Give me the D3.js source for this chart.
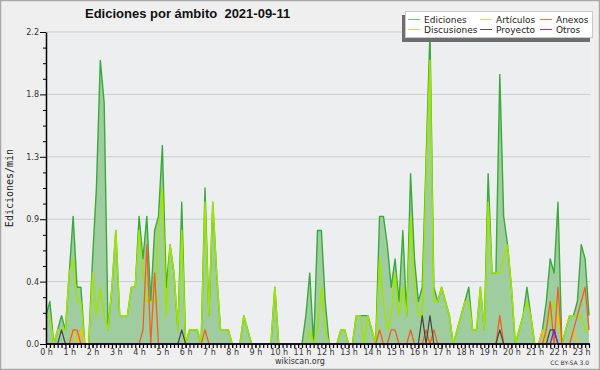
<!DOCTYPE html>
<html lang="es">
<head>
    <meta charset="UTF-8">
    <title>Ediciones por ámbito</title>
    <script src="https://d3js.org/d3.v7.min.js"></script>
    <style>
        body { margin: 0; background: #fff; }
    </style>
</head>
<body>
    <div id="chart"></div>
    <script>
        // one value every 10 minutes, 0:00 .. 23:20 (edits per minute)
        const stepMin = 10;

        const ediciones = [
            0.2, 0.3, 0, 0.1, 0.2, 0.1, 0.5, 0.9, 0.4, 0.4,
            0, 0, 0.6, 1.1, 2.0, 1.7, 0.1, 0.4, 0.8, 0.2,
            0.2, 0.2, 0.4, 0.4, 0.9, 0.6, 0.9, 0.3, 0.8, 0.9,
            1.4, 0.4, 0.7, 0.5, 0.1, 1.0, 0, 0.1, 0.1, 0.1,
            0, 1.1, 0.2, 1.0, 0.5, 0.1, 0.1, 0.1, 0, 0,
            0, 0.2, 0.1, 0, 0, 0, 0, 0, 0, 0.4,
            0, 0, 0, 0, 0, 0, 0, 0.2, 0.5, 0,
            0.8, 0.8, 0.3, 0, 0, 0, 0.1, 0.1, 0, 0,
            0.2, 0.2, 0.2, 0.2, 0.1, 0, 0.9, 0.9, 0.7, 0.4,
            0.6, 0.3, 0.8, 0.2, 1.2, 0.6, 0.3, 0.4, 1.3, 2.2,
            0.4, 0.3, 0.4, 0.3, 0.2, 0, 0.1, 0.2, 0.3, 0.4,
            0.1, 0.1, 0.4, 0.1, 1.2, 0.5, 0.5, 1.9, 0.9, 0.7,
            0.4, 0, 0.1, 0.2, 0.4, 0.2, 0, 0, 0.1, 0.3,
            0.6, 0.5, 1.0, 0, 0.1, 0.2, 0.2, 0.3, 0.7, 0.6, 0.2
        ];
        const articulos = [
            0.2, 0.2, 0, 0.1, 0.1, 0.1, 0.5, 0.6, 0.3, 0.3,
            0, 0, 0.5, 0.2, 0.4, 0.2, 0.1, 0.4, 0.8, 0.2,
            0.2, 0.2, 0.4, 0.4, 0.8, 0.5, 0.3, 0.3, 0.3, 0.8,
            1.1, 0.2, 0.7, 0.5, 0.1, 0.8, 0, 0.1, 0.1, 0.1,
            0, 1.0, 0.2, 1.0, 0.5, 0.1, 0.1, 0.1, 0, 0,
            0, 0.2, 0.1, 0, 0, 0, 0, 0, 0, 0.4,
            0, 0, 0, 0, 0, 0, 0, 0, 0.1, 0,
            0.1, 0.4, 0.1, 0, 0, 0, 0.1, 0.1, 0, 0,
            0.2, 0.2, 0, 0.2, 0.1, 0, 0.6, 0.3, 0.1, 0.2,
            0.5, 0.2, 0.4, 0.2, 0.9, 0.4, 0.2, 0.2, 1.2, 2.0,
            0.3, 0.3, 0.4, 0.3, 0.2, 0, 0.1, 0.2, 0.3, 0.3,
            0.1, 0.1, 0.4, 0.1, 1.0, 0.5, 0.5, 0.5, 0.6, 0.7,
            0.4, 0, 0.1, 0.2, 0.3, 0.2, 0, 0, 0, 0.1,
            0.2, 0.3, 0.2, 0, 0.1, 0.2, 0.2, 0.2, 0.2, 0.1, 0.1
        ];
        const anexos = [
            0, 0, 0, 0, 0, 0, 0, 0.1, 0.1, 0,
            0, 0, 0, 0, 0, 0, 0, 0, 0, 0,
            0, 0, 0, 0, 0, 0.1, 0.7, 0, 0.5, 0,
            0, 0, 0, 0, 0, 0, 0, 0, 0, 0,
            0, 0.1, 0, 0, 0, 0, 0, 0, 0, 0,
            0, 0, 0, 0, 0, 0, 0, 0, 0, 0,
            0, 0, 0, 0, 0, 0, 0, 0, 0, 0,
            0, 0, 0, 0, 0, 0, 0, 0, 0, 0,
            0, 0, 0, 0, 0, 0, 0.1, 0, 0, 0.1,
            0.1, 0, 0, 0, 0.1, 0, 0, 0, 0.1, 0,
            0.1, 0, 0, 0, 0, 0, 0, 0, 0, 0,
            0, 0, 0, 0, 0, 0, 0, 0.2, 0, 0,
            0, 0, 0, 0, 0, 0, 0, 0, 0, 0.1,
            0.3, 0, 0.4, 0, 0, 0, 0.1, 0.2, 0.3, 0.4, 0.1
        ];
        const discusiones = [
            0, 0, 0, 0, 0, 0, 0, 0.1, 0, 0.1,
            0, 0, 0, 0, 0, 0, 0, 0, 0, 0,
            0, 0, 0, 0, 0, 0, 0, 0, 0, 0,
            0, 0, 0, 0, 0, 0, 0, 0, 0, 0,
            0, 0, 0, 0, 0, 0, 0, 0, 0, 0,
            0, 0, 0, 0, 0, 0, 0, 0, 0, 0,
            0, 0, 0, 0, 0, 0, 0, 0, 0, 0,
            0, 0, 0, 0, 0, 0, 0, 0, 0, 0,
            0, 0, 0, 0, 0, 0, 0, 0, 0, 0,
            0, 0, 0, 0, 0, 0, 0, 0, 0, 0,
            0, 0, 0, 0, 0, 0, 0, 0, 0, 0,
            0, 0, 0, 0, 0, 0, 0, 0, 0, 0,
            0, 0, 0, 0, 0, 0, 0, 0, 0.1, 0,
            0, 0.1, 0.2, 0, 0, 0, 0.1, 0, 0, 0, 0
        ];
        const proyecto = [
            0, 0, 0, 0, 0.1, 0, 0, 0, 0, 0,
            0, 0, 0, 0, 0, 0, 0, 0, 0, 0,
            0, 0, 0, 0, 0, 0, 0, 0, 0, 0,
            0, 0, 0, 0, 0, 0.1, 0, 0, 0, 0,
            0, 0, 0, 0, 0, 0, 0, 0, 0, 0,
            0, 0, 0, 0, 0, 0, 0, 0, 0, 0,
            0, 0, 0, 0, 0, 0, 0, 0, 0, 0,
            0, 0, 0, 0, 0, 0, 0, 0, 0, 0,
            0, 0, 0, 0, 0, 0, 0, 0, 0, 0,
            0, 0, 0, 0, 0, 0, 0, 0.2, 0, 0.2,
            0, 0, 0, 0, 0, 0, 0, 0, 0, 0,
            0, 0, 0, 0, 0, 0, 0, 0.1, 0, 0,
            0, 0, 0, 0, 0, 0, 0, 0, 0, 0,
            0.1, 0.1, 0, 0, 0, 0, 0, 0, 0, 0, 0
        ];
        const otros = [
            0, 0, 0, 0, 0, 0, 0, 0, 0, 0,
            0, 0, 0, 0, 0, 0, 0, 0, 0, 0,
            0, 0, 0, 0, 0, 0, 0, 0, 0, 0,
            0, 0, 0, 0, 0, 0, 0, 0, 0, 0,
            0, 0, 0, 0, 0, 0, 0, 0, 0, 0,
            0, 0, 0, 0, 0, 0, 0, 0, 0, 0,
            0, 0, 0, 0, 0, 0, 0, 0, 0, 0,
            0, 0, 0, 0, 0, 0, 0, 0, 0, 0,
            0, 0, 0, 0, 0, 0, 0, 0, 0, 0,
            0, 0, 0, 0, 0, 0, 0, 0, 0, 0,
            0, 0, 0, 0, 0, 0, 0, 0, 0, 0,
            0, 0, 0, 0, 0, 0, 0, 0, 0, 0,
            0, 0, 0, 0, 0, 0, 0, 0, 0, 0,
            0, 0.1, 0, 0, 0, 0, 0, 0, 0, 0, 0
        ];

        const hourLabels = ["0 h", "1 h", "2 h", "3 h", "4 h", "5 h", "6 h", "7 h", "8 h", "9 h", "10 h", "11 h",
            "12 h", "13 h", "14 h", "15 h", "16 h", "17 h", "18 h", "19 h", "20 h", "21 h", "22 h", "23 h"];
        const yMajorTicks = [0, 0.44, 0.88, 1.32, 1.76, 2.2];

        const width = 600;
        const height = 370;

        // x in minutes since midnight
        const xScale = d3.scaleLinear().domain([0, 1400]).range([46, 589]);
        const yScale = d3.scaleLinear().domain([0, 2.2]).range([344, 32]);

        const svg = d3.select("#chart")
            .append("svg")
            .attr("width", width)
            .attr("height", height);

        // background and frame
        svg.append("rect")
            .attr("x", 0.5).attr("y", 0.5)
            .attr("width", width - 1).attr("height", height - 1)
            .attr("fill", "#efefef")
            .attr("stroke", "#a8a8a8")
            .attr("stroke-width", 1.5);

        svg.append("rect")
            .attr("x", 46).attr("y", 32)
            .attr("width", 544).attr("height", 312)
            .attr("fill", "#eceef0");

        // horizontal grid
        svg.append("g")
            .selectAll("line")
            .data(yMajorTicks.slice(1))
            .join("line")
            .attr("x1", 46).attr("x2", 590)
            .attr("y1", d => yScale(d)).attr("y2", d => yScale(d))
            .attr("stroke", "#cdcdcd")
            .attr("stroke-width", 1);

        const xOf = (d, i) => xScale(i * stepMin);

        // area for total edits
        svg.append("path")
            .datum(ediciones)
            .attr("fill", "#a0cda0")
            .attr("d", d3.area().x(xOf).y0(yScale(0)).y1(d => yScale(d)));

        const line = d3.line().x(xOf).y(d => yScale(d));

        svg.append("path")
            .datum(ediciones)
            .attr("fill", "none")
            .attr("stroke", "#3aaa3a")
            .attr("stroke-width", 1.4)
            .attr("stroke-linejoin", "round")
            .attr("d", line);

        // other namespaces on top
        const series = [
            { values: articulos, color: "#a0e400", w: 1.5 },
            { values: discusiones, color: "#ffc000", w: 1.3 },
            { values: anexos, color: "#f06020", w: 1.3 },
            { values: proyecto, color: "#444444", w: 1.2 },
            { values: otros, color: "#7a22e0", w: 1.3 }
        ];
        series.forEach(s => {
            svg.append("path")
                .datum(s.values)
                .attr("fill", "none")
                .attr("stroke", s.color)
                .attr("stroke-width", s.w)
                .attr("stroke-linejoin", "round")
                .attr("d", line);
        });

        // y axis: minor + major ticks
        const yMinor = [];
        yMajorTicks.forEach((t, i) => {
            if (i > 0) [1, 2, 3].forEach(k => yMinor.push(yMajorTicks[i - 1] + k * 0.11));
        });

        svg.append("g")
            .attr("transform", "translate(46,0)")
            .call(d3.axisLeft(yScale).tickValues(yMinor).tickSize(3).tickSizeOuter(0).tickFormat(""))
            .call(g => g.select(".domain").remove());

        const yAxis = svg.append("g")
            .attr("transform", "translate(46,0)")
            .call(d3.axisLeft(yScale).tickValues(yMajorTicks).tickSize(6).tickSizeOuter(0)
                .tickPadding(1).tickFormat(d3.format(".1f")));
        yAxis.select(".domain").attr("stroke", "#000").attr("stroke-width", 1.5);
        yAxis.selectAll("text")
            .attr("font-family", "DejaVu Sans, sans-serif")
            .attr("font-size", 8)
            .attr("fill", "#333");

        // x axis: tick every 10 minutes, labels every hour
        const xMinor = ediciones.map((d, i) => i * stepMin);
        svg.append("g")
            .attr("transform", "translate(0,344)")
            .call(d3.axisBottom(xScale).tickValues(xMinor).tickSize(4).tickSizeOuter(0).tickFormat(""))
            .call(g => g.select(".domain").remove())
            .selectAll("line").attr("stroke-width", 1.2);

        const xAxis = svg.append("g")
            .attr("transform", "translate(0,344)")
            .call(d3.axisBottom(xScale)
                .tickValues(hourLabels.map((h, i) => i * 60))
                .tickSize(4).tickSizeOuter(0).tickPadding(1)
                .tickFormat((d, i) => hourLabels[i]));
        xAxis.select(".domain").attr("d", "M46,0H590").attr("stroke", "#000").attr("stroke-width", 1.5);
        xAxis.selectAll("text")
            .attr("font-family", "DejaVu Sans, sans-serif")
            .attr("font-size", 8)
            .attr("fill", "#333");

        // titles
        svg.append("text")
            .attr("x", 85).attr("y", 18)
            .attr("font-family", "Liberation Sans, Arial, sans-serif")
            .attr("font-weight", "bold")
            .attr("font-size", 13)
            .attr("fill", "#111")
            .style("white-space", "pre")
            .text("Ediciones por ámbito  2021-09-11");

        svg.append("text")
            .attr("transform", "translate(13,188) rotate(-90)")
            .attr("text-anchor", "middle")
            .attr("font-family", "DejaVu Sans Mono, monospace")
            .attr("font-size", 10)
            .attr("fill", "#222")
            .text("Ediciones/min");

        svg.append("text")
            .attr("x", 300).attr("y", 364)
            .attr("text-anchor", "middle")
            .attr("font-family", "DejaVu Sans, sans-serif")
            .attr("font-size", 8)
            .attr("fill", "#333")
            .text("wikiscan.org");

        svg.append("text")
            .attr("x", 589).attr("y", 365)
            .attr("text-anchor", "end")
            .attr("font-family", "DejaVu Sans, sans-serif")
            .attr("font-size", 6)
            .attr("fill", "#333")
            .text("CC BY-SA 3.0");

        // legend with shadow
        const legendItems = [
            { name: "Ediciones", color: "#70c870", col: 0, row: 0 },
            { name: "Artículos", color: "#c8ee60", col: 1, row: 0 },
            { name: "Anexos", color: "#f07040", col: 2, row: 0 },
            { name: "Discusiones", color: "#ffcc44", col: 0, row: 1 },
            { name: "Proyecto", color: "#555555", col: 1, row: 1 },
            { name: "Otros", color: "#8a3ae6", col: 2, row: 1 }
        ];
        const colX = [408, 480, 540];

        svg.append("rect")
            .attr("x", 402).attr("y", 15)
            .attr("width", 188).attr("height", 27)
            .attr("fill", "#6e6e6e");
        svg.append("rect")
            .attr("x", 405.5).attr("y", 11.5)
            .attr("width", 187).attr("height", 26)
            .attr("fill", "#fff")
            .attr("stroke", "#c8c8c8");

        const legend = svg.append("g")
            .selectAll("g")
            .data(legendItems)
            .join("g")
            .attr("transform", d => `translate(${colX[d.col]},${19.5 + d.row * 10})`);

        legend.append("line")
            .attr("x1", 0).attr("x2", 12)
            .attr("stroke", d => d.color)
            .attr("stroke-width", 1);

        legend.append("text")
            .attr("x", 16).attr("y", 3)
            .attr("font-family", "DejaVu Sans, sans-serif")
            .attr("font-size", 9)
            .attr("fill", "#222")
            .text(d => d.name);
    </script>
</body>
</html>
